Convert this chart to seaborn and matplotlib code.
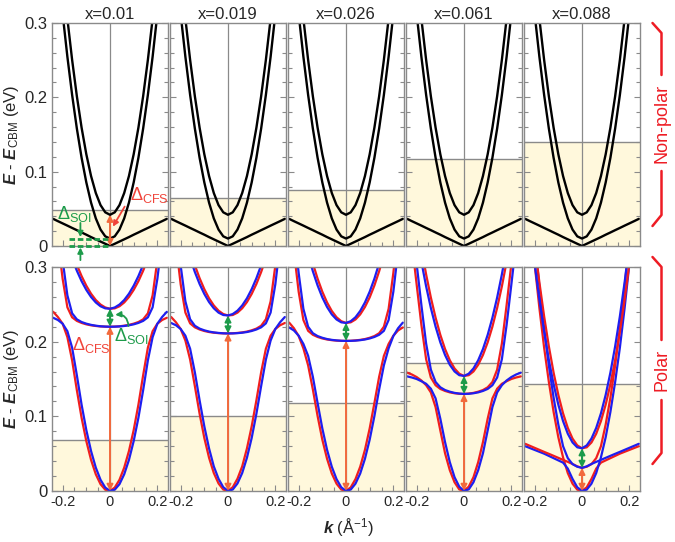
import matplotlib
matplotlib.use("Agg")
import matplotlib.pyplot as plt
import seaborn as sns
from matplotlib.lines import Line2D
from matplotlib.ticker import MultipleLocator

sns.set_style("ticks")
plt.rcParams["font.family"] = ["Liberation Sans", "DejaVu Sans"]
plt.rcParams["mathtext.fontset"] = "custom"
plt.rcParams["mathtext.rm"] = "Liberation Sans"
plt.rcParams["mathtext.it"] = "Liberation Sans:italic"
plt.rcParams["mathtext.bf"] = "Liberation Sans:bold:italic"
plt.rcParams["axes.unicode_minus"] = False

# Panel titles (composition x)
TITLES = ["x=0.01", "x=0.019", "x=0.026", "x=0.061", "x=0.088"]

# Axis ticks
X_TICKS = [-0.2, 0, 0.2]
X_TICK_LABELS = ["-0.2", "0", "0.2"]
Y_TICKS = [0, 0.1, 0.2, 0.3]
Y_TICK_LABELS = ["0", "0.1", "0.2", "0.3"]

# k grids (1/A)
K_HALF = [0.0, 0.02, 0.04, 0.06, 0.08, 0.10, 0.12, 0.14, 0.16, 0.18, 0.20, 0.22, 0.24]
K_FULL = [-0.24, -0.22, -0.20, -0.18, -0.16, -0.14, -0.12, -0.10, -0.08, -0.06, -0.04, -0.02,
          0.0, 0.02, 0.04, 0.06, 0.08, 0.10, 0.12, 0.14, 0.16, 0.18, 0.20, 0.22, 0.24]

# Non-polar bands, symmetric in k (values on K_HALF)
NP_VBAND = [0.0, 0.003, 0.006, 0.009, 0.012, 0.0152, 0.0182, 0.0213, 0.0243, 0.0274, 0.0304, 0.0334, 0.0365]
NP_BAND2 = [0.010, 0.013, 0.0221, 0.0372, 0.0583, 0.0855, 0.1187, 0.158, 0.2033, 0.2546, 0.312, 0.3754, 0.4449]
NP_BAND3 = [0.042, 0.0453, 0.055, 0.0713, 0.0941, 0.1234, 0.1592, 0.2015, 0.2504, 0.3057, 0.3676, 0.436, 0.5109]
NP_FERMI = [0.048, 0.065, 0.076, 0.117, 0.140]

# Polar bands: red spin branch on K_FULL (blue branch is the red one read at -k)
P1_RED_L = [0.240, 0.233, 0.224, 0.206, 0.175, 0.135, 0.098, 0.0668, 0.0416, 0.0224, 0.0091, 0.0017, 0.0002,
            0.0046, 0.015, 0.0313, 0.0535, 0.0816, 0.1156, 0.155, 0.192, 0.214, 0.224, 0.229, 0.232]
P1_RED_M = [0.395, 0.336, 0.284, 0.246, 0.2326, 0.2278, 0.2251, 0.2232, 0.2219, 0.2210, 0.2204, 0.2201, 0.2200,
            0.2202, 0.2206, 0.2214, 0.2225, 0.2241, 0.2263, 0.2299, 0.238, 0.262, 0.309, 0.365, 0.425]
P1_RED_U = [0.412, 0.3857, 0.3617, 0.3398, 0.3202, 0.3029, 0.2878, 0.2749, 0.2642, 0.2558, 0.2497, 0.2458, 0.2441,
            0.2446, 0.2474, 0.2525, 0.2598, 0.2693, 0.281, 0.295, 0.3113, 0.3298, 0.3505, 0.3734, 0.3986]

P2_RED_L = [0.233, 0.226, 0.217, 0.2015, 0.176, 0.1405, 0.1035, 0.071, 0.0445, 0.0241, 0.0101, 0.0019, 0.0002,
            0.0051, 0.0164, 0.033, 0.057, 0.0865, 0.1215, 0.159, 0.1905, 0.208, 0.217, 0.222, 0.225]
P2_RED_M = [0.390, 0.331, 0.277, 0.239, 0.2245, 0.2192, 0.2163, 0.2143, 0.2129, 0.2120, 0.2114, 0.2111, 0.2110,
            0.2112, 0.2117, 0.2124, 0.2135, 0.2152, 0.2175, 0.2213, 0.230, 0.254, 0.302, 0.360, 0.420]
P2_RED_U = [0.427, 0.397, 0.3695, 0.3445, 0.3221, 0.3023, 0.285, 0.2703, 0.2581, 0.2485, 0.2415, 0.237, 0.2351,
            0.2357, 0.2389, 0.2447, 0.253, 0.2639, 0.2773, 0.2933, 0.3119, 0.333, 0.3567, 0.3829, 0.4117]

P3_RED_L = [0.2255, 0.218, 0.2075, 0.191, 0.1683, 0.136, 0.1004, 0.0687, 0.0431, 0.0234, 0.0098, 0.0019, 0.0002,
            0.0049, 0.0159, 0.0325, 0.0551, 0.0838, 0.1178, 0.153, 0.181, 0.197, 0.208, 0.215, 0.219]
P3_RED_M = [0.380, 0.321, 0.267, 0.229, 0.2145, 0.2092, 0.2063, 0.2043, 0.2029, 0.2020, 0.2014, 0.2011, 0.2010,
            0.2012, 0.2017, 0.2024, 0.2035, 0.2052, 0.2075, 0.2113, 0.220, 0.244, 0.292, 0.350, 0.410]
P3_RED_U = [0.453, 0.4174, 0.3847, 0.355, 0.3285, 0.3049, 0.2844, 0.2669, 0.2525, 0.2411, 0.2327, 0.2274, 0.2251,
            0.2259, 0.2297, 0.2365, 0.2464, 0.2593, 0.2753, 0.2943, 0.3163, 0.3414, 0.3695, 0.4007, 0.4349]

P4_RED_L = [0.1585, 0.156, 0.1526, 0.148, 0.1417, 0.132, 0.1123, 0.0811, 0.0505, 0.0279, 0.0117, 0.0021, 0.0002,
            0.0058, 0.0185, 0.0387, 0.0654, 0.0968, 0.124, 0.137, 0.1436, 0.147, 0.150, 0.152, 0.1535]
P4_RED_M = [0.386, 0.3315, 0.2765, 0.2225, 0.1765, 0.152, 0.1416, 0.1367, 0.1340, 0.1321, 0.1309, 0.1302, 0.1300,
            0.1305, 0.1314, 0.1330, 0.1352, 0.1389, 0.146, 0.1625, 0.1975, 0.249, 0.304, 0.359, 0.414]
P4_RED_U = [0.4541, 0.4071, 0.3641, 0.3251, 0.2901, 0.2591, 0.2321, 0.2091, 0.1901, 0.1751, 0.1641, 0.1571, 0.1541,
            0.1551, 0.1601, 0.1691, 0.1821, 0.1991, 0.2201, 0.2451, 0.2741, 0.3071, 0.3441, 0.3851, 0.4301]

P5_RED_L = [0.442, 0.370, 0.304, 0.245, 0.192, 0.146, 0.106, 0.072, 0.045, 0.024, 0.0098, 0.0018, 0.0002,
            0.005, 0.0162, 0.030, 0.038, 0.041, 0.044, 0.047, 0.050, 0.0525, 0.055, 0.0575, 0.060]
P5_RED_M = [0.0632, 0.0605, 0.0578, 0.0551, 0.0524, 0.0498, 0.0471, 0.0444, 0.0417, 0.0390, 0.0362, 0.0330, 0.0310,
            0.0325, 0.036, 0.044, 0.060, 0.089, 0.125, 0.168, 0.218, 0.274, 0.336, 0.405, 0.48]
P5_RED_U = [0.4472, 0.386, 0.3302, 0.2795, 0.234, 0.1937, 0.1586, 0.1287, 0.104, 0.0845, 0.0702, 0.0611, 0.0572,
            0.0585, 0.065, 0.0767, 0.0936, 0.1157, 0.143, 0.1755, 0.2132, 0.2561, 0.3042, 0.3575, 0.416]

POL_BANDS = [
    (P1_RED_L, P1_RED_M, P1_RED_U),
    (P2_RED_L, P2_RED_M, P2_RED_U),
    (P3_RED_L, P3_RED_M, P3_RED_U),
    (P4_RED_L, P4_RED_M, P4_RED_U),
    (P5_RED_L, P5_RED_M, P5_RED_U),
]
POL_FERMI = [0.068, 0.1005, 0.118, 0.172, 0.143]

# colours
GRAY = "#8a8a8a"
FILL = "#fff8dc"
RED = "#f01e1e"
BLUE = "#1e1ef0"
ORANGE = "#f26a3c"
GREEN = "#1d9b4a"
LABEL_RED = "#f0443a"
BRACKET_RED = "#ee1c24"

W, H = 675, 542
LEFT_PX = [52, 170, 288, 406, 524]
PANEL_W = 116
TOP_ROW = (23, 246)
BOT_ROW = (267, 491)
XLIM = (-0.245, 0.245)


def px(x, y):
    return x / W, 1 - y / H


def mirror(vals):
    k = [-v for v in K_HALF[::-1]] + K_HALF[1:]
    e = vals[::-1] + vals[1:]
    return k, e


def style_axis(ax, show_x, show_y):
    ax.set_xlim(*XLIM)
    ax.set_ylim(0, 0.3)
    ax.set_xticks(X_TICKS)
    ax.set_yticks(Y_TICKS)
    ax.xaxis.set_minor_locator(MultipleLocator(0.05))
    ax.yaxis.set_minor_locator(MultipleLocator(0.02))
    ax.tick_params(which="both", direction="in", color=GRAY, width=0.8,
                   left=True, right=True, bottom=True, top=False, pad=3)
    ax.tick_params(axis="y", labelsize=12)
    ax.tick_params(axis="x", labelsize=10.5)
    ax.tick_params(which="major", length=4)
    ax.tick_params(which="minor", length=3)
    ax.set_xticklabels(X_TICK_LABELS if show_x else [])
    ax.set_yticklabels(Y_TICK_LABELS if show_y else [])
    for sp in ax.spines.values():
        sp.set_color(GRAY)
        sp.set_linewidth(1)
    ax.axvline(0, color=GRAY, lw=0.9, zorder=1)


def fermi_fill(ax, ef):
    ax.fill_between(list(XLIM), 0, ef, color=FILL, lw=0, zorder=0)
    ax.axhline(ef, color=GRAY, lw=1, zorder=1)


def double_arrow(ax, lo, hi, color):
    ax.annotate("", xy=(0, hi), xytext=(0, lo),
                arrowprops=dict(arrowstyle="<|-|>", color=color, lw=1.4,
                                mutation_scale=9, shrinkA=0, shrinkB=0), zorder=4)


fig = plt.figure(figsize=(W / 100, H / 100), dpi=100)

for i in range(5):
    # non-polar row
    x0, y0 = px(LEFT_PX[i], TOP_ROW[1])
    ax = fig.add_axes([x0, y0, PANEL_W / W, (TOP_ROW[1] - TOP_ROW[0]) / H])
    style_axis(ax, False, i == 0)
    fermi_fill(ax, NP_FERMI[i])
    for band in (NP_VBAND, NP_BAND2, NP_BAND3):
        k, e = mirror(band)
        sns.lineplot(x=k, y=e, ax=ax, color="black", linewidth=1.7, sort=False, legend=False, zorder=2)
    ax.set_xlabel("")
    ax.set_ylabel("")
    ax.set_title(TITLES[i], fontsize=12, pad=3)

    if i == 0:
        double_arrow(ax, NP_VBAND[0], NP_BAND3[0], ORANGE)
        ax.text(0.165, 0.069, r"$\Delta_{\mathrm{CFS}}$", color=LABEL_RED, fontsize=13,
                ha="center", va="center", zorder=5)
        ax.annotate("", xy=(0.012, 0.026), xytext=(0.062, 0.053),
                    arrowprops=dict(arrowstyle="-|>", color=LABEL_RED, lw=1.3,
                                    mutation_scale=8, shrinkA=0, shrinkB=0), zorder=5)
        ax.text(-0.15, 0.043, r"$\Delta_{\mathrm{SOI}}$", color=GREEN, fontsize=13,
                ha="center", va="center", zorder=5)
        for lev in (NP_VBAND[0], NP_BAND2[0]):
            ax.plot([-0.175, 0], [lev, lev], color=GREEN, lw=2, ls=(0, (2, 1)),
                    clip_on=False, zorder=4)
        ax.annotate("", xy=(-0.125, NP_BAND2[0] + 0.002), xytext=(-0.125, 0.031),
                    arrowprops=dict(arrowstyle="-|>", color=GREEN, lw=1.3, mutation_scale=8,
                                    shrinkA=0, shrinkB=0), annotation_clip=False, zorder=5)
        ax.annotate("", xy=(-0.125, NP_VBAND[0] - 0.002), xytext=(-0.125, -0.019),
                    arrowprops=dict(arrowstyle="-|>", color=GREEN, lw=1.3, mutation_scale=8,
                                    shrinkA=0, shrinkB=0), annotation_clip=False, zorder=5)

    # polar row
    x0, y0 = px(LEFT_PX[i], BOT_ROW[1])
    ax = fig.add_axes([x0, y0, PANEL_W / W, (BOT_ROW[1] - BOT_ROW[0]) / H])
    style_axis(ax, True, i == 0)
    fermi_fill(ax, POL_FERMI[i])
    for red in POL_BANDS[i]:
        sns.lineplot(x=K_FULL, y=red, ax=ax, color=RED, linewidth=1.6, sort=False, legend=False, zorder=2)
        sns.lineplot(x=K_FULL, y=red[::-1], ax=ax, color=BLUE, linewidth=1.6, sort=False, legend=False, zorder=2)
    ax.set_xlabel("")
    ax.set_ylabel("")
    red_l, red_m, red_u = POL_BANDS[i]
    double_arrow(ax, red_l[12], red_m[12], ORANGE)
    double_arrow(ax, red_m[12], red_u[12], GREEN)

    if i == 0:
        ax.text(-0.08, 0.196, r"$\Delta_{\mathrm{CFS}}$", color=LABEL_RED, fontsize=13,
                ha="center", va="center", zorder=5)
        ax.text(0.09, 0.208, r"$\Delta_{\mathrm{SOI}}$", color=GREEN, fontsize=13,
                ha="center", va="center", zorder=5)
        ax.annotate("", xy=(0.022, 0.236), xytext=(0.078, 0.221),
                    arrowprops=dict(arrowstyle="-|>", color=GREEN, lw=1.3, mutation_scale=8,
                                    connectionstyle="arc3,rad=0.5", shrinkA=0, shrinkB=0), zorder=5)

# axis labels
ylab = r"$\mathbf{E}$ - $\mathbf{E}_{\mathrm{CBM}}$ (eV)"
fig.text(*px(12, (TOP_ROW[0] + TOP_ROW[1]) / 2), ylab, rotation=90, ha="center", va="center", fontsize=12)
fig.text(*px(12, (BOT_ROW[0] + BOT_ROW[1]) / 2), ylab, rotation=90, ha="center", va="center", fontsize=12)
fig.text(*px(348, 528), r"$\mathbf{k}$ (Å$^{\mathrm{-1}}$)", ha="center", va="center", fontsize=12)

# side brackets
for pts in ([(652.5, 23), (661.5, 33), (661.5, 75)],
            [(661.5, 171), (661.5, 215), (652.5, 226)],
            [(652.5, 257), (661.5, 267), (661.5, 340)],
            [(661.5, 400), (661.5, 453), (652.5, 464)]):
    xs, ys = zip(*[px(x, y) for x, y in pts])
    fig.add_artist(Line2D(xs, ys, transform=fig.transFigure, color=BRACKET_RED, lw=1.8))
fig.text(*px(661.5, 123), "Non-polar", rotation=90, ha="center", va="center",
         color=BRACKET_RED, fontsize=13)
fig.text(*px(661.5, 370), "Polar", rotation=90, ha="center", va="center",
         color=BRACKET_RED, fontsize=13)

fig.savefig("out.png", dpi=100)
